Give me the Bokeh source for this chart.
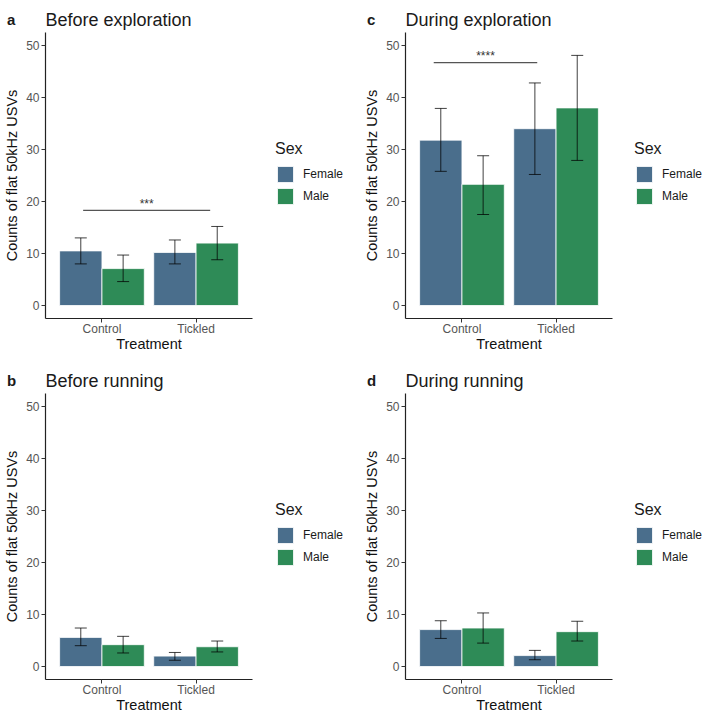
from bokeh.plotting import figure
from bokeh.models import (ColumnDataSource, Whisker, TeeHead, Legend, LegendItem,
                          Label, FixedTicker, Range1d)
from bokeh.core.properties import value
from bokeh.layouts import row, column
from bokeh.embed import file_html
from bokeh.resources import INLINE

treatments = ["Control", "Tickled"]
sexes = ["Female", "Male"]
y_ticks = [0, 10, 20, 30, 40, 50]

# a: Before exploration
a_female = [10.5, 10.2]
a_female_lo = [8.0, 8.0]
a_female_hi = [13.0, 12.6]
a_male = [7.1, 12.0]
a_male_lo = [4.6, 8.8]
a_male_hi = [9.7, 15.2]
a_sig = ["***", 0.80, 2.15, 18.3]

# b: Before running
b_female = [5.6, 2.0]
b_female_lo = [4.0, 1.2]
b_female_hi = [7.4, 2.7]
b_male = [4.2, 3.8]
b_male_lo = [2.6, 2.8]
b_male_hi = [5.8, 4.9]

# c: During exploration
c_female = [31.8, 34.0]
c_female_lo = [25.8, 25.2]
c_female_hi = [37.9, 42.8]
c_male = [23.3, 38.0]
c_male_lo = [17.5, 27.9]
c_male_hi = [28.8, 48.1]
c_sig = ["****", 0.70, 1.80, 46.7]

# d: During running
d_female = [7.1, 2.1]
d_female_lo = [5.4, 1.3]
d_female_hi = [8.8, 3.1]
d_male = [7.4, 6.7]
d_male_lo = [4.5, 4.9]
d_male_hi = [10.3, 8.7]

FONT = "Liberation Sans"
COLORS = {"Female": "#4A6E8C", "Male": "#2E8B57"}
DODGE = {"Female": -0.225, "Male": 0.225}
BAR_W = 0.45

X_LO, X_HI = 0.4, 2.6      # ggplot-style expanded x limits
Y_LO, Y_HI = -2.5, 52.5    # ggplot-style expanded y limits
PX_X = 94.1                # pixels per x unit
PX_Y = 5.2                 # pixels per y unit
FIG_W = 354


def make_panel(letter, title, series, sig, fig_h, pad_left, pad_top, legend_x, legend_y):
    pad_bottom = fig_h - pad_top - (Y_HI - Y_LO) * PX_Y
    x_start = X_LO - pad_left / PX_X
    x_end = x_start + FIG_W / PX_X
    y_end = Y_HI + pad_top / PX_Y
    y_start = Y_LO - pad_bottom / PX_Y
    p = figure(frame_width=FIG_W, frame_height=fig_h,
               x_range=Range1d(x_start, x_end), y_range=Range1d(y_start, y_end),
               output_backend="svg", toolbar_location=None, min_border=0)
    p.outline_line_color = None
    p.xgrid.visible = False
    p.ygrid.visible = False
    p.background_fill_color = "white"

    items = []
    for sex in sexes:
        vals, lo, hi = series[sex]
        xs = [i + 1 + DODGE[sex] for i in range(len(treatments))]
        src = ColumnDataSource(dict(x=xs, top=vals, lo=lo, hi=hi))
        r = p.vbar(x="x", top="top", bottom=0, width=BAR_W, source=src,
                   fill_color=COLORS[sex], line_color="white", line_width=0.8)
        items.append(LegendItem(label=sex, renderers=[r]))
        w = Whisker(base="x", upper="hi", lower="lo", source=src,
                    line_color="black", line_alpha=0.75, line_width=1,
                    level="annotation",
                    upper_head=TeeHead(size=12, line_color="black", line_alpha=0.75, line_width=1),
                    lower_head=TeeHead(size=12, line_color="black", line_alpha=0.75, line_width=1))
        p.add_layout(w)

    if sig is not None:
        lab, x0, x1, y = sig
        p.line(x=[x0, x1], y=[y, y], line_color="#555555", line_width=1.2)
        p.text(x=[(x0 + x1) / 2], y=[y + 1.2], text=[lab], text_align="center",
               text_baseline="alphabetic", text_font=value(FONT),
               text_font_size="12px", text_color="#333333")

    legend = Legend(items=items, title="Sex", location=(legend_x, legend_y),
                    title_text_font=FONT, title_text_font_size="16px",
                    title_text_font_style="normal", title_text_color="#1a1a1a",
                    title_standoff=6,
                    label_text_font=FONT, label_text_font_size="12px",
                    label_text_color="#1a1a1a",
                    glyph_width=20, glyph_height=20, spacing=2, label_standoff=8,
                    padding=0, margin=0, border_line_color=None,
                    background_fill_alpha=0)
    p.add_layout(legend)

    y_title = Y_HI + 13 / PX_Y
    p.add_layout(Label(x=X_LO, y=y_title, text=title, text_font=FONT,
                       text_font_size="18px", text_baseline="alphabetic",
                       text_align="left", text_color="#1a1a1a"))
    p.add_layout(Label(x=X_LO - 38.5 / PX_X, y=y_title, text=letter, text_font=FONT,
                       text_font_size="15px", text_font_style="bold",
                       text_baseline="alphabetic", text_align="left",
                       text_color="#1a1a1a"))

    for ax in (p.xaxis[0], p.yaxis[0]):
        ax.axis_line_color = "#222222"
        ax.axis_line_width = 1.2
        ax.major_tick_line_color = "#333333"
        ax.major_tick_in = 0
        ax.major_tick_out = 4
        ax.minor_tick_in = 0
        ax.minor_tick_out = 0
        ax.major_label_text_font = FONT
        ax.major_label_text_font_size = "12px"
        ax.major_label_text_color = "#555555"
        ax.axis_label_text_font = FONT
        ax.axis_label_text_font_size = "14.5px"
        ax.axis_label_text_font_style = "normal"
        ax.axis_label_text_color = "#111111"

    p.xaxis.fixed_location = Y_LO
    p.xaxis.bounds = (X_LO, X_HI)
    p.yaxis.fixed_location = X_LO
    p.yaxis.bounds = (Y_LO, Y_HI)
    p.xaxis.major_label_standoff = -1
    p.xaxis.axis_label_standoff = -3
    p.yaxis.major_label_standoff = 2
    p.yaxis.axis_label_standoff = 3

    p.xaxis.ticker = FixedTicker(ticks=[i + 1 for i in range(len(treatments))])
    p.xaxis.major_label_overrides = {i + 1: t for i, t in enumerate(treatments)}
    p.xaxis.axis_label = "Treatment"
    p.yaxis.ticker = FixedTicker(ticks=y_ticks)
    p.yaxis.axis_label = "Counts of flat 50kHz USVs"
    return p


pa = make_panel("a", "Before exploration",
                {"Female": (a_female, a_female_lo, a_female_hi),
                 "Male": (a_male, a_male_lo, a_male_hi)}, a_sig,
                361, 45, 32, 275, 155)
pc = make_panel("c", "During exploration",
                {"Female": (c_female, c_female_lo, c_female_hi),
                 "Male": (c_male, c_male_lo, c_male_hi)}, c_sig,
                361, 51, 32, 280, 155)
pb = make_panel("b", "Before running",
                {"Female": (b_female, b_female_lo, b_female_hi),
                 "Male": (b_male, b_male_lo, b_male_hi)}, None,
                360, 45, 32, 275, 154)
pd_ = make_panel("d", "During running",
                 {"Female": (d_female, d_female_lo, d_female_hi),
                  "Male": (d_male, d_male_lo, d_male_hi)}, None,
                 360, 51, 32, 280, 154)

layout = column(row(pa, pc), row(pb, pd_))
open("out.html", "w").write(file_html(layout, INLINE))
